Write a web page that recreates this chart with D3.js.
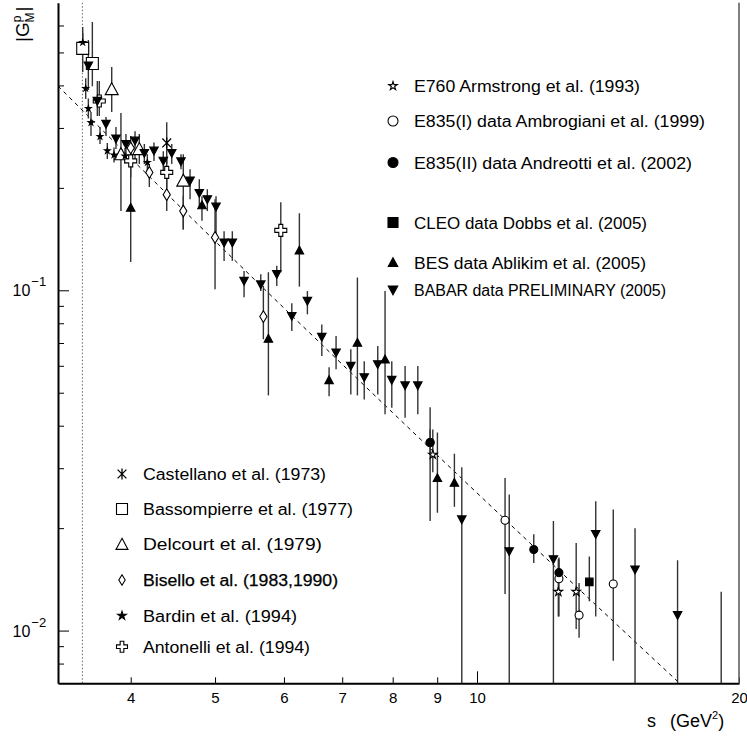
<!DOCTYPE html>
<html><head><meta charset="utf-8">
<script src="https://cdn.jsdelivr.net/npm/d3@7"></script>
<style>
body{margin:0;background:#fff}
svg{display:block}
text{font-family:"Liberation Sans",Arial,sans-serif;fill:#000}
</style>
</head><body>
<svg id="c" width="747" height="738"></svg>
<script>
// ---------- DATA (s in GeV^2, |G_M| value, lower, upper) ----------
const xTicks = [4, 5, 6, 7, 8, 9, 10, 20];
const yMajorTicks = [0.01, 0.1];
const yMinorTicks = [0.008, 0.009, 0.02, 0.03, 0.04, 0.05, 0.06, 0.07, 0.08, 0.09, 0.2, 0.3, 0.4, 0.5, 0.6];
const threshold = 3.52;

const castellano = [[4.40, 0.271, 0.235, 0.312]];
const bassompierre = [[3.523, 0.514, 0.438, 0.594], [3.614, 0.464, 0.398, 0.614]];
const delcourt = [[3.804, 0.390, 0.334, 0.453], [3.898, 0.251, 0.171, 0.332], [4.092, 0.260, 0.235, 0.288], [4.597, 0.210, 0.151, 0.251]];
const bisello = [[4.00, 0.262, 0.240, 0.284], [4.202, 0.222, 0.201, 0.235], [4.40, 0.191, 0.171, 0.212], [4.597, 0.171, 0.151, 0.189], [5.00, 0.143, 0.1007, 0.185], [5.682, 0.0837, 0.0718, 0.103]];
const bardin = [[3.523, 0.535, 0.50, 0.57], [3.551, 0.392, 0.365, 0.420], [3.576, 0.342, 0.320, 0.366], [3.601, 0.311, 0.284, 0.334], [3.688, 0.283, 0.269, 0.302], [3.760, 0.257, 0.243, 0.271], [3.827, 0.250, 0.2375, 0.263], [3.94, 0.248, 0.236, 0.262], [4.18, 0.2375, 0.224, 0.251]];
const antonelli = [[3.681, 0.360, 0.325, 0.412], [4.00, 0.240, 0.215, 0.260], [4.40, 0.222, 0.200, 0.248], [5.95, 0.150, 0.113, 0.1815]];
const e760 = [[8.896, 0.0329, 0.0292, 0.0390], [12.40, 0.0130, 0.0110, 0.0162], [13.00, 0.0130, 0.0101, 0.0181]];
const e835I = [[8.833, 0.0357, 0.0210, 0.0453], [10.77, 0.0211, 0.0128, 0.0281], [12.42, 0.0142, 0.0110, 0.0162], [13.10, 0.0111, 0.00952, 0.0138], [14.34, 0.0137, 0.00816, 0.0227]];
const e835II = [[8.833, 0.0357, 0.0329, 0.0390], [11.62, 0.0173, 0.0158, 0.0192], [12.42, 0.0148, 0.0138, 0.0164]];
const cleo = [[13.46, 0.0139, 0.0122, 0.0165]];
const bes = [[4.00, 0.175, 0.121, 0.2547], [4.83, 0.178, 0.160, 0.189], [5.758, 0.0721, 0.0491, 0.113], [6.25, 0.131, 0.1025, 0.1685], [6.761, 0.0545, 0.0488, 0.0594], [7.287, 0.0702, 0.0491, 0.109], [7.84, 0.0627, 0.0432, 0.0995], [9.005, 0.0281, 0.0222, 0.0382], [9.419, 0.0272, 0.0231, 0.0331]];
const babar = [[3.576, 0.457, 0.3875, 0.544], [3.662, 0.360, 0.325, 0.412], [3.747, 0.308, 0.284, 0.323], [3.847, 0.279, 0.260, 0.302], [3.95, 0.269, 0.251, 0.288], [4.046, 0.275, 0.243, 0.2935], [4.147, 0.253, 0.235, 0.269], [4.254, 0.257, 0.240, 0.272], [4.36, 0.240, 0.224, 0.256], [4.459, 0.253, 0.235, 0.269], [4.569, 0.239, 0.227, 0.251], [4.68, 0.210, 0.185, 0.227], [4.796, 0.193, 0.176, 0.212], [4.899, 0.185, 0.171, 0.198], [5.013, 0.176, 0.141, 0.189], [5.121, 0.138, 0.122, 0.149], [5.234, 0.138, 0.122, 0.149], [5.399, 0.1065, 0.0954, 0.114], [5.643, 0.104, 0.0995, 0.1115], [5.887, 0.1115, 0.103, 0.118], [6.126, 0.0840, 0.0759, 0.0916], [6.384, 0.0930, 0.0850, 0.0995], [6.632, 0.0729, 0.0641, 0.0794], [6.887, 0.0656, 0.0586, 0.0734], [7.161, 0.0599, 0.0494, 0.0671], [7.42, 0.0555, 0.0478, 0.0619], [7.69, 0.0606, 0.0494, 0.0686], [7.981, 0.0545, 0.0452, 0.0619], [8.267, 0.0525, 0.0422, 0.0599], [8.55, 0.0525, 0.0432, 0.0599], [9.605, 0.0212, 0.005, 0.0302], [10.89, 0.0171, 0.005, 0.0251], [12.24, 0.0162, 0.005, 0.0210], [13.69, 0.0192, 0.0110, 0.0240], [15.19, 0.0151, 0.005, 0.0200], [17.00, 0.0111, 0.005, 0.0161], [19.08, 0.005, 0.003, 0.0130]];

// QCD fit curve
const fitS = [3.3, 3.6, 4, 4.5, 5, 5.5, 6, 7, 8, 9, 10, 11, 12, 13, 14, 15, 16, 17.2];
const fitV = [0.3985, 0.3192, 0.2444, 0.1817, 0.1395, 0.1100, 0.08866, 0.06061, 0.04368, 0.03277, 0.02537, 0.02015, 0.01633, 0.01347, 0.01128, 0.00956, 0.008194, 0.006897];

const legendLeft = ["Castellano et al. (1973)", "Bassompierre et al. (1977)", "Delcourt et al. (1979)", "Bisello et al. (1983,1990)", "Bardin et al. (1994)", "Antonelli et al. (1994)"];
const legendRight = ["E760 Armstrong et al. (1993)", "E835(I) data Ambrogiani et al. (1999)", "E835(II) data Andreotti et al. (2002)", "CLEO data Dobbs et al. (2005)", "BES data Ablikim et al. (2005)", "BABAR data PRELIMINARY (2005)"];

// ---------- CHART ----------
const svg = d3.select("#c");
const L = 58, R = 739, T = 2.7, B = 683.3;
const x = d3.scaleLog().domain([3.3, 20]).range([L, R]);
const y = d3.scaleLog().domain([0.007, 0.7]).range([B, T]);

svg.append("defs").append("clipPath").attr("id", "clip")
  .append("rect").attr("x", L).attr("y", T).attr("width", R - L).attr("height", B - T);

const plot = svg.append("g").attr("clip-path", "url(#clip)");

// threshold dotted line
plot.append("line").attr("x1", x(threshold)).attr("x2", x(threshold)).attr("y1", T).attr("y2", B)
  .attr("stroke", "#666").attr("stroke-width", 1).attr("stroke-dasharray", "1.5,2");

// fit dashed line
plot.append("path").datum(d3.zip(fitS, fitV))
  .attr("d", d3.line().x(d => x(d[0])).y(d => y(d[1])))
  .attr("fill", "none").attr("stroke", "#000").attr("stroke-width", 1).attr("stroke-dasharray", "4,4");

// marker shapes
function shape(type, s) {
  const h = s / 2;
  switch (type) {
    case "square": return `M${-h},${-h}H${h}V${h}H${-h}Z`;
    case "circle": return d3.symbol(d3.symbolCircle, Math.PI * h * h)();
    case "triUp": return `M0,${-h}L${h},${h * 0.85}L${-h},${h * 0.85}Z`;
    case "triDown": return `M0,${h}L${h},${-h * 0.85}L${-h},${-h * 0.85}Z`;
    case "diamond": return `M0,${-h * 1.3}L${h * 0.8},0L0,${h * 1.3}L${-h * 0.8},0Z`;
    case "star": return d3.symbol(d3.symbolStar, (h * h) / 0.8908)();
    case "cross": { const a = s / 6; return `M${-a},${-3 * a}H${a}V${-a}H${3 * a}V${a}H${a}V${3 * a}H${-a}V${a}H${-3 * a}V${-a}H${-a}Z`; }
    case "asterisk": { const d = h * 0.8; return `M0,${-h}V${h}M${-d},${-d}L${d},${d}M${-d},${d}L${d},${-d}`; }
  }
}

const series = [
  { data: castellano, type: "asterisk", fill: "none", size: 11, legSize: 11 },
  { data: bassompierre, type: "square", fill: "#fff", size: 12, legSize: 11 },
  { data: delcourt, type: "triUp", fill: "#fff", size: 13, legSize: 12 },
  { data: bisello, type: "diamond", fill: "#fff", size: 9, legSize: 8 },
  { data: bardin, type: "star", fill: "#000", size: 6, legSize: 9 },
  { data: antonelli, type: "cross", fill: "#fff", size: 12, legSize: 11 },
  { data: e760, type: "star", fill: "#fff", size: 9, legSize: 9 },
  { data: e835I, type: "circle", fill: "#fff", size: 8, legSize: 10 },
  { data: e835II, type: "circle", fill: "#000", size: 8, legSize: 10 },
  { data: cleo, type: "square", fill: "#000", size: 7.5, legSize: 10 },
  { data: bes, type: "triUp", fill: "#000", size: 8.5, legSize: 9.5 },
  { data: babar, type: "triDown", fill: "#000", size: 8.5, legSize: 9.5 }
];

// error bars
series.forEach(sr => {
  plot.append("g").selectAll("line").data(sr.data).join("line")
    .attr("x1", d => x(d[0])).attr("x2", d => x(d[0]))
    .attr("y1", d => y(d[2])).attr("y2", d => y(d[3]))
    .attr("stroke", "#333").attr("stroke-width", 1.4);
});

// markers
function drawMarker(g, sr, size) {
  return g.attr("d", shape(sr.type, size))
    .attr("fill", sr.fill)
    .attr("stroke", "#000").attr("stroke-width", sr.type === "asterisk" ? 1.3 : 1.1);
}
series.forEach(sr => {
  plot.append("g").selectAll("path").data(sr.data).join("path")
    .attr("transform", d => `translate(${x(d[0])},${y(d[1])})`)
    .call(sel => drawMarker(sel, sr, sr.size));
});

// axes
const xAxis = d3.axisBottom(x).tickValues(xTicks).tickFormat(d3.format("d"))
  .tickSizeInner(-6).tickSizeOuter(0).tickPadding(9);
const gx = svg.append("g").attr("transform", `translate(0,${B})`).call(xAxis);
gx.select(".domain").attr("stroke-width", 2);
gx.selectAll(".tick line").attr("stroke-width", 1).filter(d => d === 10).attr("y2", -12);
gx.selectAll(".tick text").attr("font-family", "Liberation Sans, Arial, sans-serif").attr("font-size", 15);

const yAxis = d3.axisLeft(y).tickValues(yMinorTicks.concat(yMajorTicks)).tickFormat("")
  .tickSizeInner(-6).tickSizeOuter(0);
const gy = svg.append("g").attr("transform", `translate(${L},0)`).call(yAxis);
gy.select(".domain").attr("stroke-width", 2);
gy.selectAll(".tick line").attr("stroke-width", 1).filter(d => yMajorTicks.includes(d)).attr("x2", 11);

// frame right side
svg.append("line").attr("x1", R).attr("x2", R).attr("y1", T).attr("y2", B).attr("stroke", "#555").attr("stroke-width", 1.5);

// y labels 10^-1, 10^-2
yMajorTicks.forEach(v => {
  const t = svg.append("text").attr("x", 12.5).attr("y", y(v) + 6).attr("font-size", 16);
  t.append("tspan").text("10");
  t.append("tspan").attr("dy", -10).attr("dx", 1).attr("font-size", 13).text("\u2212" + Math.round(-Math.log10(v)));
});

// axis titles
const yl = svg.append("text").attr("transform", "translate(29,42) rotate(-90)").attr("font-size", 19);
yl.append("tspan").text("|G");
yl.append("tspan").attr("font-size", 12).attr("dy", -8).text("p");
yl.append("tspan").attr("font-size", 12).attr("dx", -7).attr("dy", 13).text("M");
yl.append("tspan").attr("dy", -5).attr("dx", 1).text("|");

const xl = svg.append("text").attr("x", 647).attr("y", 727).attr("font-size", 18);
xl.append("tspan").text("s");
xl.append("tspan").attr("dx", 14).text("(GeV");
xl.append("tspan").attr("font-size", 11).attr("dy", -8).text("2");
xl.append("tspan").attr("dy", 8).text(")");

// legends
const leftRows = [474, 509, 544.3, 580, 615.7, 646.7];
const leftWidths = [183, 210, 179, 195, 154, 167];
legendLeft.forEach((lab, i) => {
  const sr = series[i];
  svg.append("path").attr("transform", `translate(122,${leftRows[i]})`).call(sel => drawMarker(sel, sr, sr.legSize));
  const t = svg.append("text").attr("x", 143).attr("y", leftRows[i] + 6).attr("font-size", 16)
    .attr("textLength", leftWidths[i]).attr("lengthAdjust", "spacingAndGlyphs").text(lab);
  if (i === 3) t.attr("stroke", "#000").attr("stroke-width", 0.25);
});
const rightRows = [86, 121, 162.5, 222.5, 262.5, 290];
const rightWidths = [226, 291, 278, 233, 232, 252];
legendRight.forEach((lab, i) => {
  const sr = series[i + 6];
  svg.append("path").attr("transform", `translate(393,${rightRows[i]})`).call(sel => drawMarker(sel, sr, sr.legSize));
  svg.append("text").attr("x", 414).attr("y", rightRows[i] + 6).attr("font-size", 16)
    .attr("textLength", rightWidths[i]).attr("lengthAdjust", "spacingAndGlyphs").text(lab);
});
</script>
</body></html>
